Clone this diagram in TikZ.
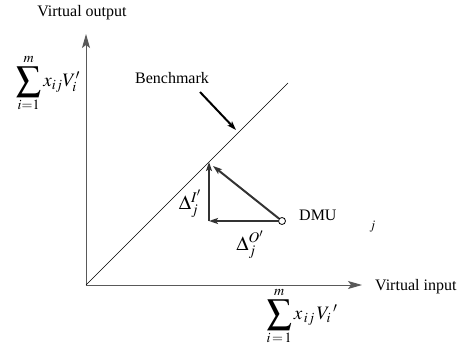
\documentclass[tikz,border=0pt]{standalone}
\usepackage{mathptmx}
\usepackage[no-math]{fontspec}
\setmainfont{Liberation Serif}
\usepackage{tikz}
\usetikzlibrary{arrows.meta, positioning}
\tikzstyle{axis}  = [draw=black!65, line width=1pt, -{Stealth[length=14pt, width=8pt, inset=3pt]}]
\tikzstyle{move}  = [draw=black!80, line width=2pt, -{Stealth[length=9pt, width=6pt, inset=2pt]}]
\tikzstyle{txt}   = [inner sep=0pt, font=\fontsize{16}{19}\selectfont]
\tikzstyle{sumtxt}= [inner sep=0pt, font=\fontsize{19}{22}\selectfont]
\tikzstyle{deltxt}= [inner sep=0pt, font=\fontsize{20}{23}\selectfont]
\newcommand{\bigsum}{\mathop{\vcenter{\hbox{\scalebox{1.3}{$\displaystyle\sum$}}}}\limits}

\begin{document}
\begin{tikzpicture}[x=1pt, y=-1pt]
  \useasboundingbox (0,0) rectangle (465,345);

  % Axes
  \coordinate (O) at (86,285);
  \coordinate (ytop) at (86,34);
  \coordinate (xend) at (362,285);
  \draw[axis] (O) -- (ytop);
  \draw[axis] (O) -- (xend);
  \node[txt] (yname) at (82,13) {Virtual output};
  \node[sumtxt] (ysum) at (48,83) {$\bigsum_{i=1}^{m} x_{ij}V_i'$};
  \node[txt, anchor=west] (xname) at (375,287) {Virtual input};
  \node[sumtxt] (xsum) at (302,316) {$\bigsum_{i\,=\,1}^{m} x_{\,ij}\,V_{i}\,'$};

  % Benchmark frontier
  \coordinate (bend) at (288,83);
  \draw[line width=0.6pt] (O) -- (bend);
  \node[txt] (bench) at (172,78) {Benchmark};
  \coordinate (bstart) at (200,92);
  \coordinate (bhit) at (236,130);
  \draw[move, draw=black] (bstart) -- (bhit);

  % DMU and its moves
  \node[circle, draw, line width=0.8pt, inner sep=0pt, minimum size=7pt] (dmu) at (282,221) {};
  \coordinate (corner) at (209,221);
  \coordinate (top) at (209,162);
  \coordinate (proj) at (213,166);
  \draw[move] (dmu) -- (corner);
  \draw[move] (corner) -- (top);
  \draw[move] (dmu) -- (proj);
  \node[deltxt] (dI) at (190,204) {$\Delta_j^{I'}$};
  \node[deltxt] (dO) at (250,245) {$\Delta_j^{O'}$};
  \node[txt, anchor=west] (dmuname) at (299,221) {DMU\hspace{33pt}\raisebox{-9pt}{\fontsize{13}{13}\selectfont$j$}};

\end{tikzpicture}
\end{document}
